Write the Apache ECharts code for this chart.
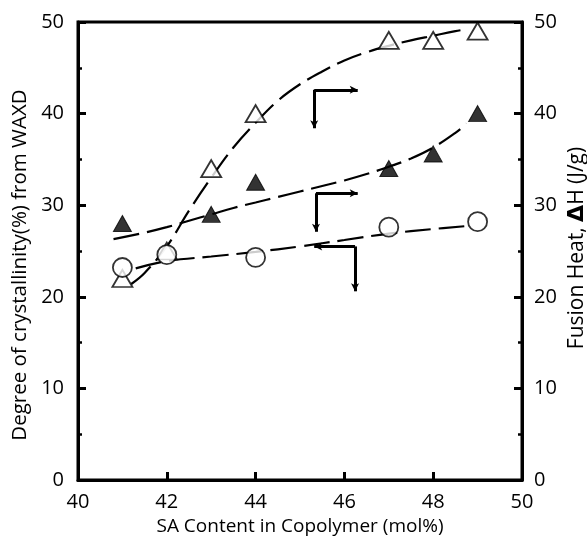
<!DOCTYPE html>
<html><head><meta charset="utf-8">
<script src="https://cdn.jsdelivr.net/npm/echarts@6/dist/echarts.min.js"></script>
<style>html,body{margin:0;padding:0;background:#fff}#c{width:587px;height:540px}</style>
</head><body><div id="c"></div>
<script>
// measured points
const openTri = [[41,22],[42,25],[43,34],[44,40],[47,48],[48,48],[49,49]];
const filledTri = [[41,28],[43,29],[44,32.5],[47,34],[48,35.6],[49,40]];
const circles = [[41,23.2],[42,24.6],[44,24.3],[47,27.6],[49,28.2]];
// fitted (hand-drawn) curves
const openCurve = [[41.2,21.4],[41.5,22.6],[42,25.5],[42.5,29.4],[43,33],[43.5,36.3],[44,39],[44.5,41.4],[45,43.2],[45.5,44.6],[46,45.8],[46.5,46.7],[47,47.4],[47.5,48.0],[48,48.5],[48.5,49.0],[48.75,49.2]];
const filledCurve = [[40.8,26.3],[41.5,27.0],[42,27.6],[42.5,28.3],[43,29.0],[43.5,29.7],[44,30.3],[44.5,30.9],[45,31.5],[45.5,32.1],[46,32.7],[46.5,33.4],[47,34.2],[47.5,35.1],[48,36.3],[48.5,37.9],[48.75,38.9]];
const circleCurve = [[41.3,23.1],[42,23.9],[43,24.4],[44,24.9],[45,25.5],[46,26.2],[47,26.9],[48,27.4],[48.7,27.7]];
// axis-pointer annotations: [corner, horizontal end, vertical end]
const pointers = [
  [[45.32,42.6],[46.3,42.6],[45.32,38.4]],
  [[45.36,31.3],[46.3,31.3],[45.36,27.1]],
  [[46.24,25.5],[45.32,25.5],[46.24,20.6]]
];
const xTicks = [40,42,44,46,48,50];
const yTicks = [0,10,20,30,40,50];

const FONT = '"Open Sans", "DejaVu Sans", sans-serif';
const chart = echarts.init(document.getElementById('c'));

const markData = [];
pointers.forEach(p=>{
  markData.push([{coord:p[0]},{coord:p[1]}]);
  markData.push([{coord:p[0]},{coord:p[2]}]);
});

const yAxisBase = {
  type:'value', min:0, max:50, interval:10,
  axisLine:{show:true,lineStyle:{color:'#000',width:3}},
  axisTick:{show:true,inside:true,length:8,lineStyle:{color:'#000',width:3}},
  minorTick:{show:true,splitNumber:2,length:4,lineStyle:{color:'#000',width:2.5}},
  splitLine:{show:false},
  axisLabel:{color:'#000',fontSize:20,fontFamily:FONT},
  nameLocation:'middle',
  nameTextStyle:{color:'#000',fontSize:20.5,fontFamily:FONT}
};

chart.setOption({
  animation:false,
  backgroundColor:'#fff',
  grid:{left:78,right:65,top:22,bottom:60,containLabel:false,outerBoundsMode:'none',show:true,borderColor:'#000',borderWidth:3,backgroundColor:'transparent'},
  xAxis:{
    type:'value', min:40, max:50, interval:2,
    axisLine:{show:true,lineStyle:{color:'#000',width:3}},
    axisTick:{show:true,inside:true,length:8,lineStyle:{color:'#000',width:3}},
    splitLine:{show:false},
    axisLabel:{color:'#000',fontSize:20,fontFamily:FONT,margin:12},
    name:'SA Content in Copolymer (mol%)',
    nameLocation:'middle', nameGap:36,
    nameTextStyle:{color:'#000',fontSize:19,fontFamily:FONT}
  },
  yAxis:[
    Object.assign({}, yAxisBase, {
      position:'left',
      name:'Degree of crystallinity(%) from WAXD', nameGap:36,
      axisLabel:Object.assign({}, yAxisBase.axisLabel, {margin:14}),
      nameTextStyle:Object.assign({}, yAxisBase.nameTextStyle, {padding:[0,28,0,0]})
    }),
    Object.assign({}, yAxisBase, {
      position:'right',
      name:'{n|Fusion Heat, }{d|Δ}{n|H (J/g)}', nameGap:44, nameMoveOverlap:false,
      axisLabel:Object.assign({}, yAxisBase.axisLabel, {margin:12}),
      nameTextStyle:Object.assign({}, yAxisBase.nameTextStyle, {padding:[0,0,0,6],
        rich:{n:{fontSize:21,fontFamily:FONT,color:'#000'},d:{fontSize:22,fontWeight:'bold',fontFamily:'"DejaVu Sans", sans-serif',color:'#000'}}})
    })
  ],
  series:[
    {type:'line',yAxisIndex:1,data:openCurve,smooth:0.4,symbol:'none',lineStyle:{color:'#000',width:2.2,type:[26,8]},z:1},
    {type:'line',yAxisIndex:1,data:filledCurve,smooth:0.4,symbol:'none',lineStyle:{color:'#000',width:2.2,type:[26,8]},z:1},
    {type:'line',yAxisIndex:0,data:circleCurve,smooth:0.4,symbol:'none',lineStyle:{color:'#000',width:2.2,type:[26,8]},z:1,
      markLine:{silent:true,symbol:['none','arrow'],symbolSize:[6,8],label:{show:false},
        lineStyle:{color:'#000',width:3,type:'solid'},data:markData}},
    {type:'scatter',yAxisIndex:1,data:openTri,symbol:'triangle',symbolSize:[20,17],
      itemStyle:{color:'#fff',borderColor:'#000',borderWidth:1.8},z:3},
    {type:'scatter',yAxisIndex:1,data:filledTri,symbol:'triangle',symbolSize:[18,16],
      itemStyle:{color:'#000',borderColor:'#000',borderWidth:1},z:3},
    {type:'scatter',yAxisIndex:0,data:circles,symbol:'circle',symbolSize:19,
      itemStyle:{color:'#fff',borderColor:'#000',borderWidth:1.8},z:3}
  ]
});
</script>
</body></html>
